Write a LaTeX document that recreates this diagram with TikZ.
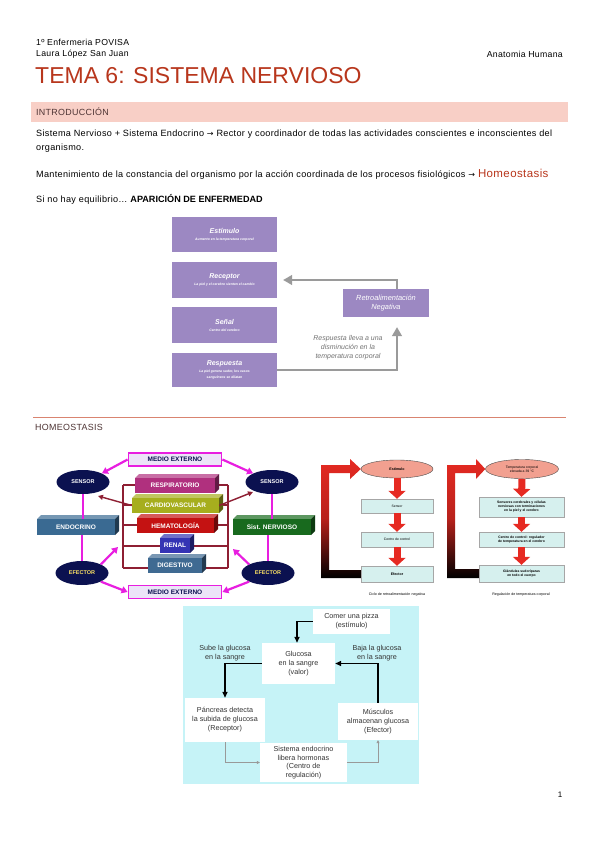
\documentclass[tikz,border=0pt]{standalone}
\usepackage{fontspec}
\setmainfont{Liberation Sans}
\newfontfamily\bodyf[LetterSpace=3.5]{Liberation Sans}
\newfontfamily\plainf{Liberation Sans}
\newfontfamily\symf{DejaVu Sans}
\usetikzlibrary{arrows.meta,shapes.geometric}
\definecolor{titlered}{HTML}{B8361C}
\definecolor{bandpink}{HTML}{F8CFC6}
\definecolor{headbrown}{HTML}{4E3434}
\definecolor{rulecol}{HTML}{D98470}
\definecolor{purp}{HTML}{9C88C2}
\definecolor{arrgray}{HTML}{9A9A9A}
\definecolor{navy}{HTML}{0B1150}
\definecolor{mag}{HTML}{E81EE0}
\definecolor{lav}{HTML}{ECE4F8}
\definecolor{frame}{HTML}{8E1F33}
\definecolor{cresp}{HTML}{B0307E}
\definecolor{ccard}{HTML}{A6AE1E}
\definecolor{chema}{HTML}{C41212}
\definecolor{crenal}{HTML}{3434B4}
\definecolor{cdig}{HTML}{3F6A92}
\definecolor{cendo}{HTML}{3A6A92}
\definecolor{cnerv}{HTML}{186A1E}
\definecolor{flowred}{HTML}{E62A22}
\definecolor{salmon}{HTML}{F2A090}
\definecolor{paleteal}{HTML}{D6F0EE}
\definecolor{gluccyan}{HTML}{C6F3F7}
\definecolor{gtext}{HTML}{333333}
\newcommand{\fsz}[2]{\fontsize{#1}{#2}\selectfont}
\newcommand{\tdbox}[7]{%
  \fill[#6!70!white] (#2,#3)--(#2+4,#3-4)--(#4+4,#3-4)--(#4,#3)--cycle;
  \fill[#6!55!black] (#4,#3)--(#4+4,#3-4)--(#4+4,#5-4)--(#4,#5)--cycle;
  \node[tdface,fill=#6,minimum width={(#4-#2)*1pt},minimum height={(#5-#3)*1pt}] (#1) at ({(#2+#4)/2},{(#3+#5)/2}) {#7};
}
\begin{document}
\begin{tikzpicture}[x=1pt,y=-1pt,
  txt/.style={inner sep=0pt,anchor=west,font=\bodyf\fsz{9.1}{11}},
  pbox/.style={fill=purp,inner sep=1pt,align=center,text=white,font=\bfseries\itshape\fsz{7}{8}},
  parr/.style={draw=arrgray,line width=1.3pt,-{Triangle[width=10pt,length=9pt]}},
  tdface/.style={inner sep=0pt,text=white,font=\bfseries\fsz{6.5}{7}},
  ell/.style={ellipse,fill=navy,inner sep=0pt,minimum width=53pt,minimum height=24pt,font=\bfseries\fsz{5.5}{6}},
  medio/.style={draw=mag,line width=1.8pt,fill=lav,text=navy,inner sep=0pt,minimum width=93pt,minimum height=13pt,font=\bfseries\fsz{6.5}{7}},
  marr/.style={draw=mag,line width=2.2pt,-{Triangle[width=7pt,length=6pt]}},
  mline/.style={draw=mag,line width=2pt},
  fline/.style={draw=frame,line width=1.4pt},
  farr/.style={draw=frame,line width=1.4pt,-{Triangle[width=5pt,length=5pt]}},
  fbox/.style={draw=gray!70,fill=paleteal,line width=0.4pt,inner sep=0pt,align=center,font=\fsz{3.4}{4},text=black},
  redarr/.style={draw=flowred,line width=7pt,-{Triangle[width=17pt,length=8pt]}},
  gbox/.style={fill=white,inner sep=0pt,align=center,text=gtext,font=\fsz{7.2}{9}},
  garr/.style={draw=black,line width=1.4pt,-{Triangle[width=5pt,length=6pt]}},
  thin/.style={draw=gray!80,line width=0.5pt,-{Triangle[width=3pt,length=3pt]}},
  glab/.style={inner sep=0pt,align=center,text=gtext,font=\fsz{7.2}{9}}]
\useasboundingbox (0,0) rectangle (599,848);
\fill[white] (0,0) rectangle (599,848);

% ---------------- header ----------------
\node[txt,font=\bodyf\fsz{8.7}{10}] (h1) at (36,42) {1º Enfermeria POVISA};
\node[txt,font=\bodyf\fsz{8.7}{10}] (h2) at (36,54) {Laura López San Juan};
\node[txt,font=\bodyf\fsz{8.7}{10},anchor=east] (h3) at (563,54) {Anatomia Humana};
\node[txt,font=\plainf\fsz{23}{26},text=titlered] (title) at (35,76) {TEMA 6: SISTEMA NERVIOSO};

% ---------------- introduction ----------------
\fill[bandpink] (31,102) rectangle (568,122);
\node[txt,text=headbrown,font=\bodyf\fsz{8.9}{10}] (intro) at (36,112) {INTRODUCCIÓN};
\node[txt] (l1) at (36,134) {Sistema Nervioso + Sistema Endocrino {\symf\fsz{8}{10}→} Rector y coordinador de todas las actividades conscientes e inconscientes del};
\node[txt] (l2) at (36,148) {organismo.};
\node[txt] (l3) at (36,174) {Mantenimiento de la constancia del organismo por la acción coordinada de los procesos fisiológicos {\symf\fsz{8}{10}→} \textcolor{titlered}{\fsz{11.5}{13}Homeostasis}};
\node[txt] (l4) at (36,199) {Si no hay equilibrio… {\plainf\bfseries APARICIÓN DE ENFERMEDAD}};

% ---------------- purple diagram ----------------
\node[pbox,minimum width=105pt,minimum height=35pt] (estim) at (224.5,234.5) {Estímulo\\[-1pt]{\fsz{3.4}{4}Aumento en la temperatura corporal}};
\node[pbox,minimum width=105pt,minimum height=36pt] (recep) at (224.5,280) {Receptor\\[-1pt]{\fsz{3.4}{4}La piel y el cerebro sienten el cambio}};
\node[pbox,minimum width=105pt,minimum height=36pt] (senal) at (224.5,325) {Señal\\[-1pt]{\fsz{3.4}{4}Centro del cerebro}};
\node[pbox,minimum width=105pt,minimum height=34pt] (resp) at (224.5,370) {Respuesta\\[-1pt]{\fsz{3.4}{4.2}La piel genera sudor, los vasos}\\[-2pt]{\fsz{3.4}{4.2}sanguíneos se dilatan}};
\node[pbox,minimum width=86pt,minimum height=28pt,font=\itshape\fsz{7.4}{8.8}] (retro) at (386,303) {Retroalimentación\\Negativa};
\draw[parr,shorten >=6pt] ([xshift=11pt]retro.north) |- (recep.east);
\draw[parr,shorten >=10pt] (resp.east) -| ([xshift=11pt]retro.south);
\node[inner sep=0pt,align=center,text=gray!90!black,font=\itshape\fsz{7}{9}] (resptxt) at (348,348) {Respuesta lleva a una\\disminución en la\\temperatura corporal};

% ---------------- homeostasis section ----------------
\draw[rulecol,line width=1pt] (33,417) -- (566,417);
\node[txt,text=headbrown,font=\bodyf\fsz{8.9}{10}] (homeo) at (35,427) {HOMEOSTASIS};

% ---------------- colourful diagram ----------------
\draw[fline] (123,485) -- (123,568) (228,485) -- (228,568);
\draw[fline] (123,485) -- (140,485) (215,485) -- (228,485);
\draw[fline] (123,505) -- (140,505) (215,505) -- (228,505);
\draw[fline] (123,525) -- (140,525) (215,525) -- (228,525);
\draw[fline] (123,546) -- (170,546) (190,546) -- (228,546);
\draw[fline] (123,568) -- (160,568) (200,568) -- (228,568);
\node[medio] (mtop) at (175,459.5) {MEDIO EXTERNO};
\node[medio] (mbot) at (175,592) {MEDIO EXTERNO};
\node[ell,text=white] (sensL) at (83,482) {SENSOR};
\node[ell,text=white] (sensR) at (272,482) {SENSOR};
\node[ell,text=yellow!70!orange!60!white] (efL) at (82,573) {EFECTOR};
\node[ell,text=yellow!70!orange!60!white] (efR) at (268,573) {EFECTOR};
\tdbox{endo}{37}{519}{115}{535}{cendo}{ENDOCRINO}
\tdbox{nerv}{233}{519}{311}{535}{cnerv}{Sist. NERVIOSO}
\tdbox{respi}{135}{478}{215}{493}{cresp}{RESPIRATORIO}
\tdbox{cardio}{132}{498}{219}{513}{ccard}{CARDIOVASCULAR}
\tdbox{hema}{137}{518}{214}{533}{chema}{HEMATOLOGÍA}
\tdbox{renal}{160}{538}{190}{553}{crenal}{RENAL}
\tdbox{diges}{148}{558}{202}{573}{cdig}{DIGESTIVO}
\draw[farr] (cardio.west) -- (98,496);
\draw[farr] (cardio.east) -- (253,492);
\draw[mline] (sensL.south) -- (endo.north -| sensL.south);
\draw[mline] (endo.south -| efL.north) -- (efL.north);
\draw[mline] (sensR.south) -- (nerv.north -| sensR.south);
\draw[mline] (nerv.south -| efR.north) -- (efR.north);
\draw[marr] (mtop.west) -- (sensL.north east);
\draw[marr] (mtop.east) -- (sensR.north west);
\draw[marr] (efL.south east) -- (mbot.west);
\draw[marr] (efR.south west) -- (mbot.east);
\draw[marr] (efL.north east) -- (118,547);
\draw[marr] (efR.north west) -- (233,549);

% ---------------- red flow diagram 1 ----------------
\node[ellipse,draw=black!70,fill=salmon,inner sep=0pt,minimum width=72pt,minimum height=18pt,font=\bfseries\fsz{3.6}{4}] (est1) at (397,469) {Estímulo};
\node[fbox,minimum width=72pt,minimum height=14pt] (sen1) at (397,506) {Sensor};
\node[fbox,minimum width=72pt,minimum height=15pt] (cen1) at (397,539.5) {Centro de control};
\node[fbox,minimum width=72pt,minimum height=16pt,font=\bfseries\fsz{3.6}{4}] (efe1) at (397,574) {Efector};
\draw[redarr] (est1.south) -- (sen1.north);
\draw[redarr] (sen1.south) -- (cen1.north);
\draw[redarr] (cen1.south) -- (efe1.north);
\shade[top color=flowred,bottom color=black,middle color=flowred!80!black]
  (efe1.west |- 0,578) -- (321,578) -- (321,465) -- (350,465) -- (350,459) -- (est1.west) -- (350,479) -- (350,473) -- (329,473) -- (329,570) -- (efe1.west |- 0,570) -- cycle;
\node[inner sep=0pt,font=\fsz{3.6}{4}] (cap1) at (397,595) {Ciclo de retroalimentación negativa};

% ---------------- red flow diagram 2 ----------------
\node[ellipse,draw=black!70,fill=salmon,inner sep=0pt,minimum width=73pt,minimum height=19pt,align=center,font=\fsz{3.4}{4}] (est2) at (522,469) {Temperatura corporal\\elevada a 39 °C};
\node[fbox,minimum width=85pt,minimum height=20pt,font=\bfseries\fsz{3.4}{4}] (sen2) at (521.5,507) {Sensores cerebrales y células\\nerviosas con terminaciones\\en la piel y el cerebro};
\node[fbox,minimum width=85pt,minimum height=15pt,font=\bfseries\fsz{3.4}{4}] (cen2) at (521.5,539.5) {Centro de control: regulador\\de temperatura en el cerebro};
\node[fbox,minimum width=85pt,minimum height=17pt,font=\bfseries\fsz{3.4}{4}] (efe2) at (521.5,573.5) {Glándulas sudoríparas\\en todo el cuerpo};
\draw[redarr] (est2.south) -- (sen2.north);
\draw[redarr] (sen2.south) -- (cen2.north);
\draw[redarr] (cen2.south) -- (efe2.north);
\shade[top color=flowred,bottom color=black,middle color=flowred!80!black]
  (efe2.west |- 0,578) -- (447,578) -- (447,465) -- (476,465) -- (476,459) -- (est2.west) -- (476,479) -- (476,473) -- (455,473) -- (455,569) -- (efe2.west |- 0,569) -- cycle;
\node[inner sep=0pt,font=\fsz{3.6}{4}] (cap2) at (521,595) {Regulación de temperatura corporal};

% ---------------- glucose diagram ----------------
\fill[gluccyan] (183,606) rectangle (419,784);
\node[gbox,minimum width=77pt,minimum height=25pt] (pizza) at (351.5,621.5) {Comer una pizza\\(estímulo)};
\node[gbox,minimum width=73pt,minimum height=41pt] (gluc) at (298.5,663.5) {Glucosa\\en la sangre\\(valor)};
\node[gbox,minimum width=80pt,minimum height=44pt] (panc) at (225,720) {Páncreas detecta\\la subida de glucosa\\(Receptor)};
\node[gbox,minimum width=80pt,minimum height=37pt] (musc) at (378,721.5) {Músculos\\almacenan glucosa\\(Efector)};
\node[gbox,minimum width=87pt,minimum height=39pt,font=\fsz{7.2}{8.6}] (sist) at (303.5,762.5) {Sistema endocrino\\libera hormonas\\(Centro de\\regulación)};
\draw[garr] (pizza.west) -| ([xshift=-1.5pt]gluc.north);
\draw[garr] (gluc.west) -| (panc.north);
\draw[garr] (musc.north) |- (gluc.east);
\draw[thin] (panc.south) |- (sist.west);
\draw[thin] (sist.east) -| (musc.south);
\node[glab] (sube) at (225,653) {Sube la glucosa\\en la sangre};
\node[glab] (baja) at (377,653) {Baja la glucosa\\en la sangre};

% ---------------- page number ----------------
\node[inner sep=0pt,font=\fsz{8}{10}] (pnum) at (560,795) {1};
\end{tikzpicture}
\end{document}
